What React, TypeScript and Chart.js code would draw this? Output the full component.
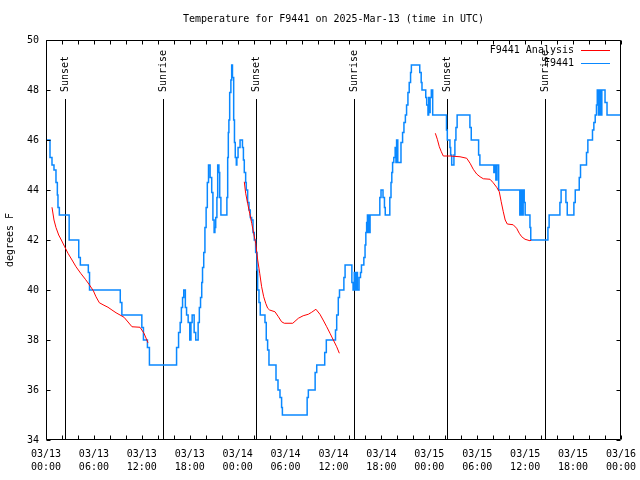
import React, { useEffect, useRef } from 'react';
import { Chart, registerables } from 'chart.js';

Chart.register(...registerables);

const FONT = "'DejaVu Sans Mono', 'Liberation Mono', monospace";

const chartTitle = 'Temperature for F9441 on 2025-Mar-13 (time in UTC)';
const yAxisTitle = 'degrees F';
const analysisLabel = 'F9441 Analysis';
const observedLabel = 'F9441';

// hours since 2025-03-13 00:00 UTC
const observedTimes = [
  0, 0.5, 0.75, 1.0, 1.25, 1.42, 1.5, 1.67, 2.9, 4.1, 4.3, 5.3, 5.45, 9.3, 9.5, 12.0, 12.2, 12.7, 12.95,
  16.35, 16.6, 16.8, 16.95, 17.1, 17.25, 17.45, 17.6, 17.8, 18.0, 18.15, 18.3, 18.55, 18.75,
  19.05, 19.2, 19.35, 19.5, 19.6, 19.75, 19.9, 20.05, 20.2, 20.35, 20.55, 20.75, 20.9, 21.05, 21.15,
  21.25, 21.4, 21.5, 21.65, 21.75, 21.9, 22.65, 22.75, 22.83, 22.9, 23.0, 23.15, 23.25, 23.35, 23.5,
  23.6, 23.7, 23.83, 23.9, 24.05, 24.3, 24.6, 24.72, 24.83, 25.0, 25.08, 25.25, 25.42, 25.58, 25.75,
  25.92, 26.08, 26.25, 26.42, 26.5, 26.67, 26.83, 27.42, 27.58, 27.75, 27.92, 28.8, 29.05, 29.3, 29.5,
  29.6, 32.7, 32.85, 33.7, 33.9, 34.9, 35.1, 36.25, 36.4, 36.6, 36.75, 37.3, 37.45, 38.3, 38.45, 38.6,
  38.72, 38.88, 39.0, 39.2, 39.38, 39.5, 39.8, 39.95, 40.05, 40.15, 40.25, 40.33, 40.42, 40.5, 40.58,
  41.8, 41.95, 42.2, 42.38, 42.48, 43.05, 43.2, 43.3, 43.4, 43.55, 43.72, 43.82, 43.9, 44.05, 44.45,
  44.65, 44.82, 45.0, 45.15, 45.32, 45.48, 45.65, 45.75, 46.8, 46.98, 47.08, 47.55, 47.67, 47.83, 47.92,
  48.0, 48.1, 48.25, 48.42, 50.15, 50.25, 50.58, 50.67, 50.8, 51.08, 51.2, 51.33, 51.48, 53.08, 53.25,
  54.17, 54.33, 56.08, 56.2, 56.33, 56.47, 56.68, 59.33, 59.47, 59.62, 59.75, 59.88, 60.0, 60.6, 60.7,
  62.85, 63.0, 64.35, 64.5, 65.1, 65.27, 66.1, 66.27, 66.77, 66.93, 67.68, 67.85, 68.43, 68.6, 68.77,
  68.93, 69.03, 69.18, 69.33, 69.48, 69.6, 70.0, 70.25, 72,
];
const observedTemps = [
  46.0, 45.3, 45.0, 44.8, 44.3, 43.8, 43.3, 43.0, 42.0, 41.3, 41.0, 40.7, 40.0, 39.5, 39.0, 38.5, 38.0, 37.7, 37.0,
  37.7, 38.3, 38.7, 39.3, 39.7, 40.0, 39.3, 39.0, 38.7, 38.0, 38.7, 39.0, 38.3, 38.0,
  38.7, 39.3, 39.7, 40.3, 40.9, 41.5, 42.5, 43.3, 44.3, 45.0, 44.5, 43.9, 42.8, 42.3, 42.5,
  42.9, 43.7, 45.0, 44.7, 43.7, 43.0, 43.7, 45.3, 46.3, 46.8, 47.9, 48.4, 49.0, 48.5, 46.8,
  45.9, 45.3, 45.0, 45.3, 45.7, 46.0, 45.7, 45.2, 44.7, 44.3, 44.0, 43.5, 43.2, 42.9, 42.8,
  42.3, 42.0, 41.5, 40.8, 40.0, 39.5, 39.0, 38.7, 38.0, 37.6, 37.0, 36.4, 36.0, 35.7, 35.3,
  35.0, 35.7, 36.0, 36.7, 37.0, 37.5, 38.0, 38.4, 39.0, 39.7, 40.0, 40.5, 41.0, 40.3, 40.0, 40.7,
  40.0, 40.7, 40.0, 40.5, 40.7, 41.0, 41.3, 41.8, 42.3, 42.7, 43.0, 42.3, 43.0, 42.3, 43.0,
  43.7, 44.0, 43.7, 43.3, 43.0, 43.7, 44.3, 44.7, 45.1, 45.3, 45.7, 45.1, 46.0, 45.1, 45.9,
  46.3, 46.7, 47.0, 47.4, 47.9, 48.3, 48.7, 49.0, 48.7, 48.3, 48.0, 47.7, 47.4, 47.0, 47.7,
  47.1, 47.7, 48.0, 47.0, 46.4, 46.0, 45.7, 45.4, 45.0, 45.4, 46.0, 46.5, 47.0, 46.5, 46.0,
  45.4, 45.0, 44.7, 45.0, 44.4, 45.0, 44.0, 43.0, 44.0, 43.0, 44.0, 43.5, 43.0, 42.5, 42.0,
  42.5, 43.0, 43.5, 44.0, 43.5, 43.0, 43.5, 44.0, 44.5, 45.0, 45.5, 46.0, 46.4, 46.7, 47.0,
  47.4, 48.0, 47.0, 48.0, 47.0, 48.0, 47.5, 47.0, 47.0,
];

const analysisTimes1 = [0.75, 1.0, 1.25, 1.59, 1.92, 2.34, 2.75, 3.26, 3.76, 4.34, 4.93, 5.43, 5.93, 6.26, 6.68, 7.26, 7.76, 8.26, 8.77, 9.27, 9.77, 10.27, 10.77, 11.77, 12.27, 12.77];
const analysisTemps1 = [43.31, 42.8, 42.5, 42.2, 42.0, 41.73, 41.47, 41.2, 40.93, 40.67, 40.43, 40.21, 39.97, 39.73, 39.49, 39.39, 39.31, 39.2, 39.09, 39.0, 38.91, 38.72, 38.53, 38.51, 38.27, 37.89];
const analysisTimes2 = [24.83, 25.0, 25.25, 25.5, 25.76, 26.0, 26.26, 26.51, 26.76, 27.0, 27.26, 27.51, 27.76, 28.0, 28.67, 29.1, 29.5, 29.84, 30.9, 31.6, 32.2, 32.85, 33.27, 33.8, 34.3, 34.7, 35.15, 35.56, 35.98, 36.4, 36.73];
const analysisTemps2 = [44.33, 43.87, 43.47, 43.07, 42.67, 42.27, 41.87, 41.2, 40.67, 40.13, 39.73, 39.47, 39.27, 39.2, 39.13, 38.93, 38.73, 38.67, 38.67, 38.87, 38.97, 39.03, 39.11, 39.23, 39.03, 38.8, 38.53, 38.27, 38.0, 37.73, 37.47];
const analysisTimes3 = [48.75, 49.0, 49.25, 49.5, 49.75, 50.6, 51.84, 52.68, 53.1, 53.5, 53.93, 54.35, 54.76, 55.6, 56.0, 56.43, 56.76, 57.0, 57.26, 57.5, 57.76, 58.5, 58.93, 59.26, 59.57, 59.98, 60.6, 60.77];
const analysisTemps3 = [46.27, 46.03, 45.73, 45.53, 45.36, 45.36, 45.33, 45.27, 45.07, 44.83, 44.64, 44.53, 44.45, 44.43, 44.29, 44.11, 43.93, 43.53, 43.13, 42.8, 42.64, 42.61, 42.47, 42.27, 42.13, 42.03, 41.97, 42.0];

const sunEventTimes = [2.38, 14.65, 26.3, 38.57, 50.21, 62.48];
const sunEventLabels = ['Sunset', 'Sunrise', 'Sunset', 'Sunrise', 'Sunset', 'Sunrise'];

const tickDates = ['03/13', '03/13', '03/13', '03/13', '03/14', '03/14', '03/14', '03/14', '03/15', '03/15', '03/15', '03/15', '03/16'];
const tickTimes = ['00:00', '06:00', '12:00', '18:00', '00:00', '06:00', '12:00', '18:00', '00:00', '06:00', '12:00', '18:00', '00:00'];
const xMin = 0;
const xMax = 72;
const xMinorStep = 2;
const xLabelStep = 6;
const yMin = 34;
const yMax = 50;
const yStep = 2;

const RED = '#ff0000';
const BLUE = '#0a88ff';

function toPoints(times: number[], temps: number[]) {
  return times.map((t, i) => ({ x: t, y: temps[i] }));
}

const decorPlugin = {
  id: 'gnuplotDecor',
  beforeDatasetsDraw(chart: any) {
    const { ctx, chartArea: a, scales } = chart;
    const x = scales.x;
    ctx.save();
    ctx.strokeStyle = '#000';
    ctx.lineWidth = 1;
    ctx.fillStyle = '#000';
    ctx.font = `10px ${FONT}`;
    sunEventTimes.forEach((t, i) => {
      const px = Math.round(x.getPixelForValue(t)) + 0.5;
      ctx.beginPath();
      ctx.moveTo(px, a.top + 59);
      ctx.lineTo(px, a.bottom);
      ctx.stroke();
      ctx.save();
      ctx.translate(px, a.top + 52);
      ctx.rotate(-Math.PI / 2);
      ctx.textAlign = 'left';
      ctx.textBaseline = 'middle';
      ctx.fillText(sunEventLabels[i], 0, 0);
      ctx.restore();
    });
    ctx.restore();
  },
  afterDatasetsDraw(chart: any) {
    const { ctx, chartArea: a, scales } = chart;
    const x = scales.x;
    const y = scales.y;
    const L = Math.round(a.left) + 0.5;
    const R = Math.round(a.right) - 0.5;
    const T = Math.round(a.top) + 0.5;
    const B = Math.round(a.bottom) - 0.5;
    ctx.save();
    ctx.strokeStyle = '#000';
    ctx.lineWidth = 1;
    ctx.beginPath();
    ctx.rect(L, T, R - L, B - T);
    ctx.stroke();
    ctx.beginPath();
    x.ticks.forEach((tk: any) => {
      const px = Math.round(x.getPixelForValue(tk.value)) + 0.5;
      const len = 4;
      ctx.moveTo(px, B);
      ctx.lineTo(px, B - len);
      ctx.moveTo(px, T);
      ctx.lineTo(px, T + len);
    });
    y.ticks.forEach((tk: any) => {
      const py = Math.round(y.getPixelForValue(tk.value)) + 0.5;
      ctx.moveTo(L, py);
      ctx.lineTo(L + 4, py);
      ctx.moveTo(R, py);
      ctx.lineTo(R - 4, py);
    });
    ctx.stroke();
    ctx.restore();
  },
  afterDraw(chart: any) {
    const { ctx, chartArea: a } = chart;
    ctx.save();
    ctx.font = `10px ${FONT}`;
    ctx.textAlign = 'right';
    ctx.textBaseline = 'middle';
    chart.data.datasets.forEach((ds: any, i: number) => {
      const rowY = a.top + 10 + i * 13;
      ctx.fillStyle = '#000';
      ctx.fillText(ds.label, a.right - 47, rowY);
      ctx.strokeStyle = ds.borderColor;
      ctx.lineWidth = 1;
      ctx.beginPath();
      ctx.moveTo(a.right - 40, Math.round(rowY) + 0.5);
      ctx.lineTo(a.right - 11, Math.round(rowY) + 0.5);
      ctx.stroke();
    });
    ctx.restore();
  },
};

export default function App() {
  const canvasRef = useRef<HTMLCanvasElement | null>(null);

  useEffect(() => {
    if (!canvasRef.current) return;
    Chart.defaults.font.family = FONT;
    Chart.defaults.font.size = 10;
    Chart.defaults.color = '#000';

    const analysisData = [
      ...toPoints(analysisTimes1, analysisTemps1),
      { x: (analysisTimes1[analysisTimes1.length - 1] + analysisTimes2[0]) / 2, y: null },
      ...toPoints(analysisTimes2, analysisTemps2),
      { x: (analysisTimes2[analysisTimes2.length - 1] + analysisTimes3[0]) / 2, y: null },
      ...toPoints(analysisTimes3, analysisTemps3),
    ];

    const chart = new Chart(canvasRef.current, {
      type: 'line',
      data: {
        datasets: [
          {
            label: analysisLabel,
            data: analysisData as any,
            borderColor: RED,
            backgroundColor: RED,
            borderWidth: 1,
            pointRadius: 0,
            spanGaps: false,
            tension: 0,
          },
          {
            label: observedLabel,
            data: toPoints(observedTimes, observedTemps),
            borderColor: BLUE,
            backgroundColor: BLUE,
            borderWidth: 1.5,
            pointRadius: 0,
            stepped: 'before',
          },
        ],
      },
      plugins: [decorPlugin],
      options: {
        animation: false,
        responsive: false,
        devicePixelRatio: 1,
        layout: { padding: { left: 0, right: 19, top: 0, bottom: 0 } },
        plugins: {
          legend: { display: false },
          tooltip: { enabled: false },
          title: {
            display: true,
            fullSize: false,
            text: chartTitle,
            color: '#000',
            font: { family: FONT, size: 10, weight: 'normal', lineHeight: 1.2 },
            padding: { top: 13, bottom: 15 },
          },
        },
        scales: {
          x: {
            type: 'linear',
            min: xMin,
            max: xMax,
            grid: { display: false, drawTicks: false },
            border: { display: false },
            ticks: {
              stepSize: xMinorStep,
              autoSkip: false,
              maxRotation: 0,
              minRotation: 0,
              padding: 8,
              color: '#000',
              font: { family: FONT, size: 10, lineHeight: 1.3 },
              callback: (value: any) => {
                const v = Number(value);
                if (Math.abs(v % xLabelStep) > 1e-6) return '';
                const idx = Math.round(v / xLabelStep);
                return [tickDates[idx], tickTimes[idx]];
              },
            },
            afterFit: (scale: any) => {
              scale.height = 40;
              scale.paddingLeft = 0;
              scale.paddingRight = 0;
            },
          },
          y: {
            type: 'linear',
            min: yMin,
            max: yMax,
            grid: { display: false, drawTicks: false },
            border: { display: false },
            title: {
              display: true,
              text: yAxisTitle,
              color: '#000',
              font: { family: FONT, size: 10 },
              padding: { top: 4, bottom: 0 },
            },
            ticks: {
              stepSize: yStep,
              padding: 7,
              color: '#000',
              font: { family: FONT, size: 10 },
            },
            afterFit: (scale: any) => {
              scale.width = 46;
              scale.paddingTop = 0;
              scale.paddingBottom = 0;
            },
          },
        },
      } as any,
    });
    return () => chart.destroy();
  }, []);

  return (
    <div style={{ position: 'absolute', left: 0, top: 0, width: 640, height: 480, background: '#fff' }}>
      <canvas ref={canvasRef} width={640} height={480} style={{ display: 'block' }} />
    </div>
  );
}
